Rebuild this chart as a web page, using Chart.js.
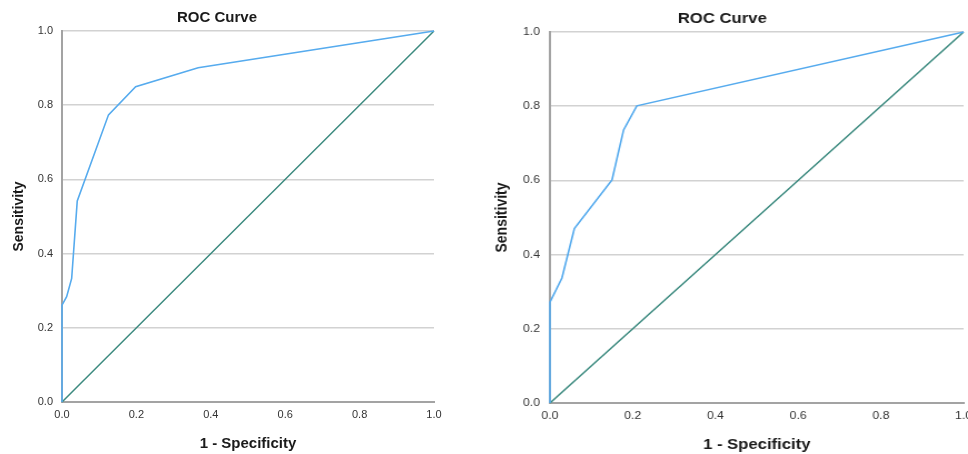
<!DOCTYPE html>
<html>
<head>
<meta charset="utf-8">
<script src="https://cdn.jsdelivr.net/npm/chart.js@4.4.1/dist/chart.umd.min.js"></script>
<style>
  html, body { margin: 0; padding: 0; background: #ffffff; overflow: hidden; width: 968px; height: 454px; }
  .wrap { position: absolute; top: 0; }
  #w1 { left: 0px; }
  #w2 { left: 480.8px; top: 1px; transform: scaleX(1.112); transform-origin: 0 0; }
  canvas { display: block; }
</style>
</head>
<body>
<div class="wrap" id="w1"><canvas id="c1" width="448" height="454"></canvas></div>
<div class="wrap" id="w2"><canvas id="c2" width="448" height="454"></canvas></div>
<script>
// ---- data ----
const chartTitle = "ROC Curve";
const xAxisTitle = "1 - Specificity";
const yAxisTitle = "Sensitivity";
const tickValues = [0, 0.2, 0.4, 0.6, 0.8, 1.0];

const leftFpr  = [0, 0, 0.0125, 0.026, 0.041, 0.125, 0.198, 0.366, 1];
const leftTpr  = [0, 0.261, 0.284, 0.333, 0.542, 0.774, 0.850, 0.901, 1];

const rightFpr = [0, 0, 0.029, 0.059, 0.150, 0.178, 0.210, 1];
const rightTpr = [0, 0.272, 0.337, 0.470, 0.601, 0.736, 0.801, 1];

const refFpr = [0, 1];
const refTpr = [0, 1];

const curveColor = "#56abee";
const refColor = "#3c8a7f";
const FONT = "'Liberation Sans', Arial, sans-serif";

function pts(xs, ys) { return xs.map((x, i) => ({ x: x, y: ys[i] })); }

function makeChart(id, fpr, tpr) {
  return new Chart(document.getElementById(id), {
    type: "scatter",
    data: {
      datasets: [
        { data: pts(fpr, tpr), showLine: true, borderColor: curveColor, borderWidth: 1.6,
          pointRadius: 0, pointHoverRadius: 0, clip: false, tension: 0 },
        { data: pts(refFpr, refTpr), showLine: true, borderColor: refColor, borderWidth: 1.5,
          pointRadius: 0, pointHoverRadius: 0, clip: false, tension: 0 }
      ]
    },
    options: {
      responsive: false,
      animation: false,
      devicePixelRatio: 1,
      layout: { padding: { left: 0, right: 14, top: 0, bottom: 0 } },
      plugins: {
        legend: { display: false },
        tooltip: { enabled: false },
        title: {
          display: true, text: chartTitle, color: "#1a1a1a",
          font: { family: FONT, size: 15, weight: "bold", lineHeight: 1.2 },
          padding: { top: 9, bottom: 4 }
        }
      },
      scales: {
        x: {
          type: "linear", min: 0, max: 1,
          afterFit: (s) => { s.height = 52; },
          afterBuildTicks: (s) => { s.ticks = tickValues.map(v => ({ value: v })); },
          ticks: { callback: (v) => Number(v).toFixed(1), color: "#333333",
                   font: { family: FONT, size: 11 }, padding: 6, maxRotation: 0 },
          grid: { display: false, drawTicks: false },
          border: { display: true, color: "#a3a3a3", width: 2 },
          title: { display: true, text: xAxisTitle, color: "#1a1a1a",
                   font: { family: FONT, size: 15, weight: "bold", lineHeight: 1.2 },
                   padding: { top: 0, bottom: 1 } }
        },
        y: {
          type: "linear", min: 0, max: 1,
          afterFit: (s) => { s.width = 62; },
          afterBuildTicks: (s) => { s.ticks = tickValues.map(v => ({ value: v })); },
          ticks: { callback: (v) => Number(v).toFixed(1), color: "#333333",
                   font: { family: FONT, size: 11 }, padding: 9 },
          grid: { display: true, color: "#d2d2d2", lineWidth: 1.5, drawTicks: false },
          border: { display: true, color: "#a3a3a3", width: 2 },
          title: { display: true, text: yAxisTitle, color: "#1a1a1a",
                   font: { family: FONT, size: 14, weight: "bold", lineHeight: 1.2 },
                   padding: { top: 11, bottom: 0 } }
        }
      }
    }
  });
}

makeChart("c1", leftFpr, leftTpr);
makeChart("c2", rightFpr, rightTpr);
</script>
</body>
</html>
